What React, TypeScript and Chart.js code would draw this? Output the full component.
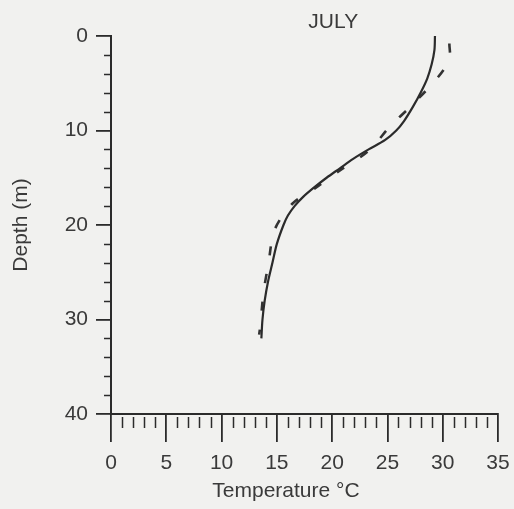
import React, { useEffect, useRef } from "react";
import { Chart, registerables } from "chart.js";

Chart.register(...registerables);

// Solid profile: temperature (°C) vs depth (m)
const solidTemp = [29.3, 29.25, 29.0, 28.6, 28.0, 27.3, 26.5, 25.8, 24.8, 23.3, 21.9, 20.7, 19.5, 18.4, 17.4, 16.6, 16.0, 15.6, 15.0, 14.6, 14.2, 13.9, 13.7, 13.6];
const solidDepth = [0, 1.5, 3.0, 4.5, 6.0, 7.5, 9.0, 10.0, 11.0, 12.0, 13.0, 14.0, 15.0, 16.0, 17.0, 18.0, 19.0, 20.0, 22.0, 24.0, 26.0, 28.0, 30.0, 32.0];

// Dashed profile
const dashTemp = [30.6, 30.6, 29.4, 27.1, 25.25, 23.3, 20.8, 18.4, 16.4, 14.8, 14.25, 13.8, 13.5, 13.4];
const dashDepth = [0.8, 2.5, 4.6, 7.45, 9.55, 12.15, 14.15, 16.15, 17.75, 20.5, 24.0, 27.1, 30.7, 31.6];

const title = "JULY";
const xTitle = "Temperature °C";
const yTitle = "Depth (m)";
const xMin = 0, xMax = 35, xStep = 5, xMinorStep = 1;
const yMin = 0, yMax = 40, yStep = 10, yMinorStep = 2;

const FONT = "'Liberation Sans', Arial, Helvetica, sans-serif";
const TEXT = "#3a3a3a";
const INK = "#2b2b2b";
const BG = "#f1f1ef";

export default function App() {
  const ref = useRef<HTMLCanvasElement | null>(null);

  useEffect(() => {
    document.body.style.backgroundColor = BG;
    document.body.style.margin = "0";
    const canvas = ref.current;
    if (!canvas) return;

    const decor = {
      id: "decor",
      beforeDraw(chart: any) {
        const ctx = chart.ctx;
        ctx.save();
        ctx.fillStyle = BG;
        ctx.fillRect(0, 0, chart.width, chart.height);
        ctx.restore();
      },
      afterDraw(chart: any) {
        const ctx = chart.ctx;
        const xs = chart.scales.x;
        const ys = chart.scales.y;
        const area = chart.chartArea;
        ctx.save();
        ctx.strokeStyle = INK;
        ctx.lineWidth = 1.5;
        // minor x ticks
        for (let v = xMin + xMinorStep; v < xMax; v += xMinorStep) {
          if (v % xStep === 0) continue;
          const px = Math.round(xs.getPixelForValue(v)) + 0.5;
          ctx.beginPath();
          ctx.moveTo(px, area.bottom + 3);
          ctx.lineTo(px, area.bottom + 14);
          ctx.stroke();
        }
        // minor y ticks
        for (let v = yMin + yMinorStep; v < yMax; v += yMinorStep) {
          if (v % yStep === 0) continue;
          const py = Math.round(ys.getPixelForValue(v)) + 0.5;
          ctx.beginPath();
          ctx.moveTo(area.left - 7, py);
          ctx.lineTo(area.left + 1, py);
          ctx.stroke();
        }
        // texts
        ctx.fillStyle = TEXT;
        ctx.font = `21px ${FONT}`;
        ctx.textAlign = "center";
        ctx.textBaseline = "middle";
        ctx.fillText(title, xs.getPixelForValue(20.1), area.top - 14);
        ctx.fillText(xTitle, area.left + (area.right - area.left) * 0.452, area.bottom + 77);
        ctx.restore();
      },
    };

    const chart = new Chart(canvas, {
      type: "scatter",
      data: {
        datasets: [
          {
            data: solidTemp.map((t, i) => ({ x: t, y: solidDepth[i] })),
            showLine: true,
            borderColor: INK,
            borderWidth: 2.2,
            pointRadius: 0,
            tension: 0.3,
            fill: false,
          },
          {
            data: dashTemp.map((t, i) => ({ x: t, y: dashDepth[i] })),
            showLine: true,
            borderColor: "#333333",
            borderWidth: 2.6,
            borderDash: [9, 19],
            pointRadius: 0,
            tension: 0.3,
            fill: false,
          },
        ],
      },
      options: {
        animation: false,
        responsive: false,
        layout: { padding: { top: 36, right: 16, left: 0, bottom: 0 } },
        plugins: {
          legend: { display: false },
          tooltip: { enabled: false },
          title: { display: false },
        },
        scales: {
          x: {
            type: "linear",
            min: xMin,
            max: xMax,
            ticks: {
              stepSize: xStep,
              color: TEXT,
              font: { family: FONT, size: 21 },
              padding: 9,
              maxRotation: 0,
            },
            grid: {
              drawOnChartArea: false,
              drawTicks: true,
              tickLength: 28,
              color: INK,
              lineWidth: 1.8,
            },
            border: { display: true, color: INK, width: 2 },
            afterFit: (s: any) => {
              s.height = 95;
              s.paddingRight = 0;
              s.paddingLeft = 0;
            },
          },
          y: {
            type: "linear",
            reverse: true,
            min: yMin,
            max: yMax,
            ticks: {
              stepSize: yStep,
              color: TEXT,
              font: { family: FONT, size: 21 },
              padding: 8,
            },
            grid: {
              drawOnChartArea: false,
              drawTicks: true,
              tickLength: 15,
              color: INK,
              lineWidth: 1.8,
            },
            border: { display: true, color: INK, width: 2 },
            title: {
              display: true,
              text: yTitle,
              color: TEXT,
              font: { family: FONT, size: 21 },
              padding: { top: 9, bottom: 0 },
            },
            afterFit: (s: any) => {
              s.width = 111;
              s.paddingTop = 0;
              s.paddingBottom = 0;
            },
          },
        },
      },
      plugins: [decor],
    });

    return () => chart.destroy();
  }, []);

  return (
    <div style={{ width: 514, height: 509 }}>
      <canvas ref={ref} width={514} height={509} style={{ display: "block" }} />
    </div>
  );
}
